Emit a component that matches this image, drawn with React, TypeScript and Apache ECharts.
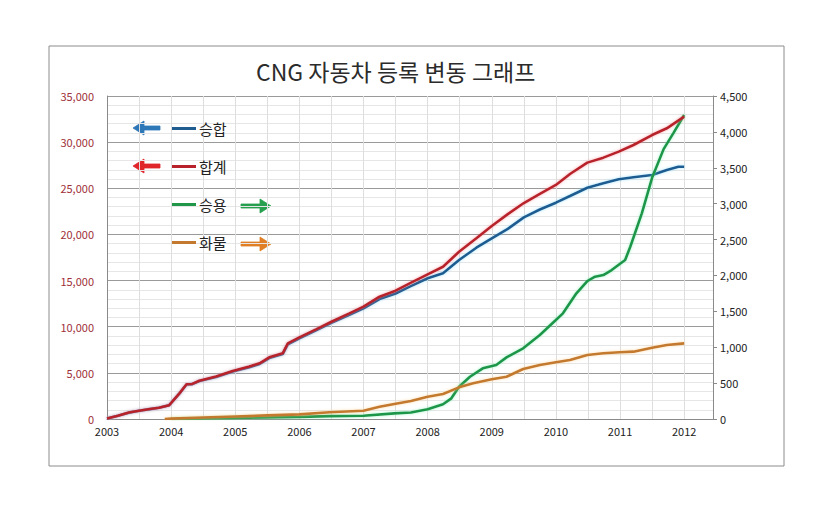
import React, { useEffect, useRef } from 'react';
import * as echarts from 'echarts';

const titleText = 'CNG 자동차 등록 변동 그래프';
const seriesNames = ['승합', '합계', '승용', '화물'];

// [year, value] — 승합 (left axis)
const vanData: [number, number][] = [
  [2003.0, 50], [2003.17, 350], [2003.34, 690], [2003.5, 890], [2003.67, 1070], [2003.81, 1210],
  [2003.97, 1490], [2004.13, 2770], [2004.24, 3740], [2004.33, 3780], [2004.44, 4120], [2004.7, 4560],
  [2004.96, 5150], [2005.22, 5620], [2005.38, 5960], [2005.53, 6600], [2005.74, 7030], [2005.82, 8100],
  [2006.0, 8750], [2006.26, 9620], [2006.5, 10420], [2006.78, 11300], [2007.0, 12000], [2007.25, 13000],
  [2007.5, 13600], [2007.72, 14350], [2008.0, 15250], [2008.24, 15790], [2008.49, 17230], [2008.76, 18560],
  [2009.0, 19580], [2009.25, 20600], [2009.5, 21850], [2009.75, 22700], [2010.0, 23440], [2010.22, 24160],
  [2010.49, 25060], [2010.74, 25540], [2010.98, 25970], [2011.21, 26190], [2011.5, 26440], [2011.73, 26980],
  [2011.91, 27340], [2012.0, 27340],
];

// 합계 (left axis)
const totalData: [number, number][] = [
  [2003.0, 50], [2003.17, 350], [2003.34, 700], [2003.5, 900], [2003.67, 1080], [2003.81, 1220],
  [2003.97, 1500], [2004.13, 2780], [2004.24, 3760], [2004.33, 3800], [2004.44, 4150], [2004.7, 4600],
  [2004.96, 5200], [2005.22, 5680], [2005.38, 6030], [2005.53, 6680], [2005.74, 7120], [2005.82, 8200],
  [2006.0, 8850], [2006.26, 9720], [2006.5, 10540], [2006.78, 11450], [2007.0, 12170], [2007.25, 13250],
  [2007.5, 13900], [2007.72, 14700], [2008.0, 15680], [2008.24, 16500], [2008.49, 18130], [2008.76, 19580],
  [2009.0, 20910], [2009.25, 22200], [2009.5, 23400], [2009.75, 24400], [2010.0, 25360], [2010.22, 26550],
  [2010.49, 27780], [2010.74, 28320], [2010.98, 28970], [2011.21, 29690], [2011.5, 30770], [2011.73, 31500],
  [2012.0, 32760],
];

// 승용 (right axis)
const carData: [number, number][] = [
  [2004.0, 0], [2005.0, 15], [2006.0, 30], [2006.47, 40], [2007.0, 46], [2007.48, 79], [2007.74, 90],
  [2008.0, 135], [2008.24, 205], [2008.37, 288], [2008.49, 450], [2008.66, 589], [2008.86, 706],
  [2009.07, 752], [2009.23, 859], [2009.49, 985], [2009.75, 1170], [2010.0, 1379], [2010.11, 1472],
  [2010.32, 1751], [2010.49, 1922], [2010.61, 1982], [2010.74, 2006], [2010.87, 2075], [2010.98, 2150],
  [2011.08, 2215], [2011.16, 2400], [2011.34, 2865], [2011.5, 3360], [2011.68, 3760], [2011.83, 3980],
  [2012.0, 4235],
];

// 화물 (right axis)
const truckData: [number, number][] = [
  [2003.9, 0], [2004.0, 5], [2004.5, 20], [2005.0, 35], [2005.5, 50], [2006.0, 65], [2006.47, 95],
  [2007.0, 116], [2007.25, 171], [2007.48, 209], [2007.74, 251], [2008.0, 311], [2008.24, 348],
  [2008.49, 441], [2008.71, 497], [2009.0, 553], [2009.23, 589], [2009.49, 696], [2009.75, 752],
  [2010.0, 790], [2010.22, 822], [2010.49, 892], [2010.74, 915], [2010.99, 929], [2011.21, 938],
  [2011.5, 993], [2011.73, 1031], [2012.0, 1054],
];

const xMin = 2003;
const xMax = 2012.45;
const leftMax = 35000;
const leftInterval = 5000;
const rightMax = 4500;
const rightInterval = 500;

const lineColors = ['#1f5c90', '#b8232b', '#1f9648', '#c47a2e'];
const glowColors = ['rgba(110,210,255,0.6)', 'rgba(255,120,130,0.6)', 'rgba(110,240,170,0.6)', 'rgba(255,200,120,0.6)'];
const arrowColors = ['#2e78b8', '#e0262a', '#26a04e', '#e07f25'];

const FONT = '"Noto Sans CJK KR", "Noto Sans", sans-serif';

function arrow(xFrom: number, xTo: number, y: number, color: string) {
  const d = xTo < xFrom ? -1 : 1;
  const hb = xTo - d * 11; // head base x
  return {
    type: 'polygon',
    silent: true,
    shape: {
      points: [
        [xTo, y],
        [hb, y - 7],
        [hb, y - 2],
        [xFrom, y - 2],
        [xFrom, y + 2],
        [hb, y + 2],
        [hb, y + 7],
      ],
    },
    style: { fill: color, stroke: color, lineWidth: 0.8, lineJoin: 'round' },
  };
}

export default function App() {
  const ref = useRef<HTMLDivElement>(null);
  useEffect(() => {
    if (!ref.current) return;
    const chart = echarts.init(ref.current, null, { renderer: 'svg' });
    const datasets = [vanData, totalData, carData, truckData];
    const yIdx = [0, 0, 1, 1];
    const option: any = {
      animation: false,
      backgroundColor: '#ffffff',
      title: {
        text: titleText,
        left: 256,
        top: 59,
        padding: 0,
        textStyle: { fontFamily: FONT, fontSize: 23, fontWeight: 'normal', color: '#2b2b2b' },
      },
      legend: {
        orient: 'vertical',
        left: 172,
        top: 121,
        padding: 0,
        itemGap: 23,
        itemWidth: 24,
        itemHeight: 3,
        icon: 'rect',
        data: seriesNames,
        selectedMode: false,
        textStyle: { fontFamily: FONT, fontSize: 15, color: '#222', padding: [0, 0, 0, -2] },
      },
      grid: { left: 107, right: 127, top: 96, bottom: 106, containLabel: false },
      xAxis: {
        type: 'value',
        min: xMin,
        max: xMax,
        interval: 0.5,
        axisLine: { show: true, lineStyle: { color: '#8a8a8a', width: 1 } },
        axisTick: { show: false },
        axisLabel: {
          margin: 6,
          color: '#222',
          fontFamily: FONT,
          fontSize: 11,
          showMaxLabel: false,
          formatter: (v: number) => (Math.abs(v - Math.round(v)) < 1e-6 ? String(Math.round(v)) : ''),
        },
        splitLine: { show: true, lineStyle: { color: '#dedede', width: 1 } },
      },
      yAxis: [
        {
          type: 'value',
          min: 0,
          max: leftMax,
          interval: leftInterval,
          position: 'left',
          axisLine: { show: true, lineStyle: { color: '#8a8a8a' } },
          axisTick: { show: false },
          axisLabel: {
            margin: 13,
            color: '#a0303a',
            fontFamily: FONT,
            fontSize: 11,
            formatter: (v: number) => v.toLocaleString('en-US'),
          },
          splitLine: { show: true, lineStyle: { color: '#9a9a9a', width: 1 } },
          minorTick: { show: false, splitNumber: 5 },
          minorSplitLine: { show: true, lineStyle: { color: '#e6e6e6', width: 1 } },
        },
        {
          type: 'value',
          min: 0,
          max: rightMax,
          interval: rightInterval,
          position: 'right',
          axisLine: { show: true, lineStyle: { color: '#8a8a8a' } },
          axisTick: { show: true, inside: false, length: 4, lineStyle: { color: '#8a8a8a' } },
          axisLabel: {
            margin: 7,
            color: '#222',
            fontFamily: FONT,
            fontSize: 11,
            formatter: (v: number) => v.toLocaleString('en-US'),
          },
          splitLine: { show: false },
        },
      ],
      series: seriesNames.map((name, i) => ({
        name,
        type: 'line',
        yAxisIndex: yIdx[i],
        data: datasets[i],
        symbol: 'none',
        smooth: false,
        z: i === 1 ? 4 : 3,
        color: lineColors[i],
        lineStyle: {
          color: lineColors[i],
          width: 2.6,
          shadowColor: glowColors[i],
          shadowBlur: 3,
        },
      })),
      graphic: [
        {
          type: 'rect',
          shape: { x: 49, y: 46, width: 735, height: 420 },
          style: { fill: 'none', stroke: '#8c8c8c', lineWidth: 1 },
          silent: true,
          z: -1,
        },
        arrow(160, 133, 128, arrowColors[0]),
        arrow(160, 133, 166, arrowColors[1]),
        arrow(241, 271, 206, arrowColors[2]),
        arrow(241, 271, 244, arrowColors[3]),
      ],
    };
    chart.setOption(option);
    return () => chart.dispose();
  }, []);
  return (
    <div
      ref={ref}
      style={{ position: 'fixed', left: 0, top: 0, width: 840, height: 525, background: '#fff' }}
    />
  );
}
